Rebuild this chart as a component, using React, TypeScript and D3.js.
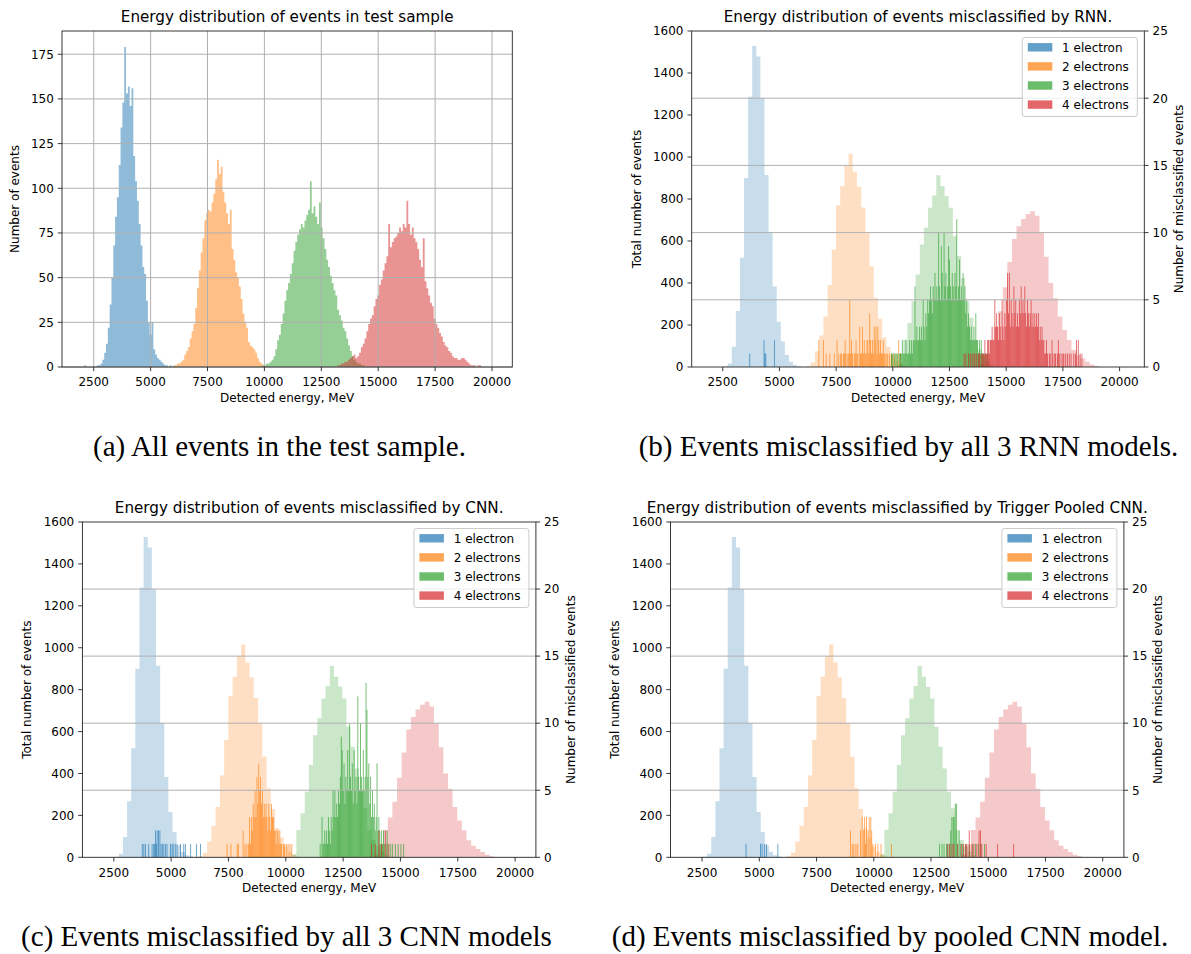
import React from 'react';
import * as d3 from 'd3';

// ---------------- data ----------------
const COLORS = ['#1f77b4', '#ff7f0e', '#2ca02c', '#d62728'];
const LABELS = ['1 electron', '2 electrons', '3 electrons', '4 electrons'];
const X_TICKS = [2500, 5000, 7500, 10000, 12500, 15000, 17500, 20000];
const A_Y_TICKS = [0, 25, 50, 75, 100, 125, 150, 175];
const TOTAL_TICKS = [0, 200, 400, 600, 800, 1000, 1200, 1400, 1600];
const MIS_TICKS = [0, 5, 10, 15, 20, 25];

// (a) fine histogram of all events, 80 MeV bins
const A_BIN = 80;
const A_BLUE_START = 2080;
const A_BLUE = [1, 0, 0, 0, 0, 0, 0, 1, 1, 2, 4, 8, 13, 22, 35, 50, 68, 84, 95, 113, 134, 148, 179, 153, 157, 146, 156, 118, 104, 93, 80, 68, 56, 52, 37, 25, 18, 25, 10, 7, 5, 4, 3, 2, 1, 1, 0, 1];
const A_ORANGE_START = 6000;
const A_ORANGE = [1, 1, 2, 2, 3, 4, 7, 9, 11, 16, 20, 24, 33, 44, 54, 64, 72, 82, 86, 88, 87, 92, 97, 105, 116, 108, 112, 98, 92, 86, 80, 88, 66, 60, 53, 50, 45, 38, 30, 25, 22, 14, 12, 11, 10, 8, 5, 3, 2, 1, 1];
const A_GREEN_START = 9840;
const A_GREEN = [0, 1, 1, 2, 2, 3, 4, 6, 10, 15, 18, 24, 30, 37, 43, 47, 52, 58, 65, 70, 74, 77, 80, 78, 82, 85, 88, 104, 86, 90, 84, 80, 92, 78, 72, 66, 60, 56, 51, 47, 43, 40, 32, 29, 26, 22, 20, 16, 12, 9, 6, 4, 3, 2, 2, 1, 1];
const A_RED_START = 13200;
const A_RED = [1, 1, 2, 2, 3, 3, 4, 5, 6, 7, 5, 6, 8, 11, 13, 16, 20, 24, 27, 29, 34, 38, 40, 46, 49, 54, 58, 62, 80, 67, 70, 72, 73, 75, 78, 76, 80, 78, 93, 80, 74, 78, 72, 70, 66, 60, 56, 72, 48, 44, 40, 36, 34, 27, 24, 22, 19, 17, 14, 12, 11, 9, 8, 6, 5, 5, 4, 4, 5, 5, 4, 3, 2, 1, 1, 1, 0, 1, 1];

// (b)-(d) total number of events per class (coarse bins)
const T_BLUE_START = 2540, T_BLUE_BIN = 180;
const T_BLUE = [3, 17, 97, 267, 520, 900, 1287, 1528, 1478, 1280, 914, 641, 383, 216, 121, 57, 25, 10, 4];
const T_ORANGE_START = 6200, T_ORANGE_BIN = 185;
const T_ORANGE = [6, 22, 75, 150, 240, 390, 560, 770, 862, 960, 1016, 930, 858, 760, 640, 480, 330, 230, 140, 95, 52, 27, 12, 4];
const T_GREEN_START = 10280, T_GREEN_BIN = 182;
const T_GREEN = [15, 130, 210, 313, 440, 583, 663, 758, 817, 913, 862, 814, 758, 623, 528, 424, 313, 234, 130, 83, 51, 27, 10];
const T_RED_START = 13840, T_RED_BIN = 202;
const T_RED = [15, 60, 130, 190, 265, 380, 500, 610, 670, 705, 728, 742, 720, 640, 525, 400, 327, 240, 176, 129, 81, 55, 40, 25, 12, 5];

// misclassified events, 40 MeV bins
const MIS_BIN = 40;
// (b) RNN
const B_BLUE_MIS = [[3670, 1], [4300, 2], [4340, 1], [4380, 1], [4760, 2]];
const B_ORANGE_START = 6680;
const B_ORANGE_MIS = [0, 2, 0, 0, 0, 0, 2, 0, 0, 1, 0, 0, 0, 1, 0, 0, 0, 0, 1, 0, 0, 2, 0, 1, 0, 1, 1, 0, 1, 1, 2, 1, 0, 1, 1, 5, 1, 2, 1, 0, 1, 1, 2, 1, 1, 0, 3, 1, 1, 3, 1, 2, 1, 1, 2, 2, 1, 4, 2, 1, 2, 1, 3, 2, 3, 1, 3, 2, 1, 2, 1, 1, 2, 1, 1, 0, 1, 1, 0, 1, 0, 1, 0, 1, 0, 0, 1, 0, 0, 2, 0, 1];
const B_GREEN_START = 9920;
const B_GREEN_MIS = [1, 1, 0, 1, 1, 0, 1, 1, 0, 1, 1, 1, 2, 1, 1, 1, 2, 1, 1, 1, 2, 1, 2, 1, 2, 2, 6, 2, 3, 2, 2, 3, 2, 3, 2, 5, 3, 2, 4, 3, 5, 4, 5, 6, 5, 4, 6, 5, 7, 5, 6, 5, 10, 6, 5, 9, 7, 5, 10, 6, 7, 5, 6, 9, 8, 6, 5, 7, 6, 5, 7, 6, 11, 5, 6, 8, 5, 6, 5, 7, 5, 6, 4, 5, 3, 4, 3, 2, 3, 2, 2, 3, 2, 4, 2, 2, 1, 2, 1, 2, 1, 1, 1, 0, 1, 0, 1];
const B_RED_START = 13120;
const B_RED_MIS = [1, 0, 1, 0, 0, 1, 0, 1, 0, 1, 0, 1, 1, 0, 1, 0, 1, 1, 0, 1, 1, 1, 1, 2, 1, 1, 2, 2, 1, 2, 2, 3, 2, 2, 5, 3, 4, 3, 2, 4, 3, 2, 5, 3, 2, 4, 3, 5, 7, 4, 7, 3, 5, 4, 3, 6, 4, 5, 3, 4, 3, 5, 4, 6, 4, 5, 4, 6, 4, 3, 5, 4, 3, 4, 5, 3, 4, 3, 4, 3, 4, 3, 4, 2, 3, 2, 3, 2, 2, 1, 1, 2, 1, 0, 1, 1, 0, 2, 1, 0, 1, 1, 0, 1, 2, 1, 0, 1, 0, 1, 1, 0, 1, 0, 1, 0, 1, 0, 1, 0, 0, 1, 0, 1, 2, 0, 2, 0, 1, 0, 1];
// (c) CNN
const C_BLUE_MIS = [[3720, 1], [3790, 1], [3860, 1], [4000, 1], [4150, 1], [4220, 1], [4260, 1], [4300, 2], [4340, 1], [4370, 2], [4430, 2], [4490, 2], [4540, 1], [4600, 1], [4660, 1], [4730, 1], [4800, 1], [4950, 1], [5020, 1], [5070, 1], [5160, 1], [5240, 1], [5390, 1], [5530, 1], [5600, 1], [5830, 1], [6090, 1], [6260, 1]];
const C_ORANGE_SPARSE = [[7420, 1], [7590, 1], [7860, 1], [7920, 1]];
const C_ORANGE_START = 8080;
const C_ORANGE_MIS = [0, 2, 0, 1, 0, 1, 0, 1, 3, 1, 3, 2, 4, 3, 5, 3, 6, 4, 7, 5, 6, 4, 5, 3, 4, 3, 4, 3, 2, 4, 3, 2, 4, 3, 3, 2, 2, 1, 2, 2, 1, 2, 1, 1, 0, 1, 1, 0, 1, 0, 1, 0, 1, 0, 1];
const C_GREEN_START = 11480;
const C_GREEN_MIS = [1, 0, 3, 1, 1, 2, 1, 2, 1, 3, 2, 1, 3, 2, 5, 3, 5, 3, 4, 3, 5, 4, 6, 9, 8, 5, 7, 4, 6, 5, 8, 5, 10, 6, 5, 7, 4, 8, 5, 6, 4, 12, 6, 5, 10, 6, 5, 8, 5, 6, 13, 11, 6, 7, 4, 6, 3, 5, 3, 4, 2, 3, 7, 2, 3, 2, 1, 2, 1, 2, 1, 0, 1, 2, 0, 1, 0, 1, 0, 1, 0, 0, 1, 0, 0, 1, 0, 0, 1, 0, 0, 1];
const C_RED_MIS = [[13720, 1], [13880, 1], [14040, 2], [14160, 1], [14320, 2], [14440, 1]];
// (d) Trigger pooled CNN
const D_BLUE_MIS = [[4400, 1], [5030, 1], [5100, 1], [5200, 1], [5290, 1], [5790, 1]];
const D_ORANGE_MIS = [[8960, 2], [9040, 1], [9110, 1], [9200, 1], [9280, 1], [9400, 2], [9470, 3], [9540, 2], [9580, 3], [9620, 1], [9660, 3], [9730, 2], [9780, 3], [9850, 3], [9890, 2], [9940, 1], [10050, 1], [10160, 1], [10300, 1], [10750, 1]];
const D_GREEN_MIS = [[12850, 1], [12960, 1], [13050, 1], [13160, 1], [13210, 1], [13280, 1], [13340, 2], [13390, 3], [13450, 3], [13490, 3], [13540, 4], [13590, 4], [13640, 1], [13710, 2], [13780, 1], [13850, 1], [14000, 1], [14150, 1], [14300, 1], [14420, 1], [14550, 1], [14660, 1], [14820, 1]];
const D_RED_MIS = [[13210, 1], [13300, 1], [13400, 1], [13480, 1], [13650, 1], [13800, 1], [13900, 1], [13980, 1], [14040, 1], [14150, 2], [14270, 1], [14350, 1], [14480, 1], [14580, 2], [14640, 2], [14700, 1], [14890, 1], [15390, 1], [16090, 1]];

// ---------------- helpers ----------------
type Bin = { x0: number; x1: number; v: number };
const dense = (start: number, w: number, c: number[]): Bin[] => c.map((v, i) => ({ x0: start + i * w, x1: start + (i + 1) * w, v }));
const sparse = (p: number[][], w: number): Bin[] => p.map(([e, v]) => ({ x0: e, x1: e + w, v }));

const FONT = "'DejaVu Sans', Verdana, sans-serif";
const SERIF = "'Liberation Serif', 'Times New Roman', serif";
const W = 1191, H = 954;
const SPINE = '#222';
const GRID = '#b0b0b0';

function stepArea(bins: Bin[], x: any, y: any): string {
  const pts: [number, number][] = bins.map(b => [b.x0, b.v]);
  pts.push([bins[bins.length - 1].x1, 0]);
  return d3.area<[number, number]>().x(d => x(d[0])).y0(y(0)).y1(d => y(d[1])).curve(d3.curveStepAfter)(pts) || '';
}

type Box = { L: number; R: number; T: number; B: number };

function Frame({ box, x, yTicks, y, rTicks, yR, title, yLabel, yLabelX, rLabel, rLabelX }: any) {
  const { L, R, T, B } = box;
  const tl = 4.2;
  return (
    <g fontFamily={FONT} fill="#000">
      <rect x={L} y={T} width={R - L} height={B - T} fill="none" stroke={SPINE} strokeWidth={0.9} />
      {X_TICKS.map(t => (
        <g key={'x' + t}>
          <line x1={x(t)} x2={x(t)} y1={B} y2={B + tl} stroke={SPINE} strokeWidth={0.9} />
          <text x={x(t)} y={B + 19.3} fontSize={12} textAnchor="middle">{t}</text>
        </g>
      ))}
      {yTicks.map((t: number) => (
        <g key={'y' + t}>
          <line x1={L - tl} x2={L} y1={y(t)} y2={y(t)} stroke={SPINE} strokeWidth={0.9} />
          <text x={L - 8.2} y={y(t) + 4.3} fontSize={12} textAnchor="end">{t}</text>
        </g>
      ))}
      {rTicks && rTicks.map((t: number) => (
        <g key={'r' + t}>
          <line x1={R} x2={R + tl} y1={yR(t)} y2={yR(t)} stroke={SPINE} strokeWidth={0.9} />
          <text x={R + 8.2} y={yR(t) + 4.3} fontSize={12} textAnchor="start">{t}</text>
        </g>
      ))}
      <text x={(L + R) / 2} y={T - 9.3} fontSize={15.2} textAnchor="middle">{title}</text>
      <text x={(L + R) / 2} y={B + 35} fontSize={12} textAnchor="middle">Detected energy, MeV</text>
      <text transform={`translate(${yLabelX},${(T + B) / 2}) rotate(-90)`} fontSize={12} textAnchor="middle" dominantBaseline="central">{yLabel}</text>
      {rLabel && <text transform={`translate(${rLabelX},${(T + B) / 2}) rotate(-90)`} fontSize={12} textAnchor="middle" dominantBaseline="central">{rLabel}</text>}
    </g>
  );
}

function PanelA() {
  const box: Box = { L: 62, R: 512.3, T: 31, B: 367 };
  const x = d3.scaleLinear().domain([1106, 20893]).range([box.L, box.R]);
  const y = d3.scaleLinear().domain([0, 188]).range([box.B, box.T]);
  const series = [
    dense(A_BLUE_START, A_BIN, A_BLUE),
    dense(A_ORANGE_START, A_BIN, A_ORANGE),
    dense(A_GREEN_START, A_BIN, A_GREEN),
    dense(A_RED_START, A_BIN, A_RED),
  ];
  return (
    <g>
      <rect x={box.L} y={box.T} width={box.R - box.L} height={box.B - box.T} fill="#fff" />
      {series.map((s, i) => <path key={i} d={stepArea(s, x, y)} fill={COLORS[i]} fillOpacity={0.5} />)}
      {X_TICKS.map(t => <line key={'gx' + t} x1={x(t)} x2={x(t)} y1={box.T} y2={box.B} stroke={GRID} strokeWidth={1} />)}
      {A_Y_TICKS.map(t => <line key={'gy' + t} x1={box.L} x2={box.R} y1={y(t)} y2={y(t)} stroke={GRID} strokeWidth={1} />)}
      <Frame box={box} x={x} y={y} yTicks={A_Y_TICKS} title="Energy distribution of events in test sample" yLabel="Number of events" yLabelX={15.3} />
    </g>
  );
}

const TOTALS = () => [
  dense(T_BLUE_START, T_BLUE_BIN, T_BLUE),
  dense(T_ORANGE_START, T_ORANGE_BIN, T_ORANGE),
  dense(T_GREEN_START, T_GREEN_BIN, T_GREEN),
  dense(T_RED_START, T_RED_BIN, T_RED),
];

function Legend({ box }: { box: Box }) {
  const w = 115, h = 79;
  const lx = box.R - 7 - w, ly = box.T + 6.5;
  return (
    <g fontFamily={FONT}>
      <rect x={lx} y={ly} width={w} height={h} rx={2.5} fill="#fff" fillOpacity={0.8} stroke="#cccccc" strokeWidth={1} />
      {LABELS.map((lab, i) => {
        const cy = ly + 9.8 + 19.1 * i;
        return (
          <g key={lab}>
            <rect x={lx + 5.5} y={cy - 4.2} width={24.5} height={8.4} fill={COLORS[i]} fillOpacity={0.7} />
            <text x={lx + 39.8} y={cy + 4.3} fontSize={12} fill="#000">{lab}</text>
          </g>
        );
      })}
    </g>
  );
}

function PanelMis({ box, xDom, title, yLabelX, rLabelX, mis }: { box: Box; xDom: number[]; title: string; yLabelX: number; rLabelX: number; mis: Bin[][] }) {
  const x = d3.scaleLinear().domain(xDom).range([box.L, box.R]);
  const y = d3.scaleLinear().domain([0, 1600]).range([box.B, box.T]);
  const yR = d3.scaleLinear().domain([0, 25]).range([box.B, box.T]);
  const tot = TOTALS();
  return (
    <g>
      <rect x={box.L} y={box.T} width={box.R - box.L} height={box.B - box.T} fill="#fff" />
      {tot.map((s, i) => <path key={'t' + i} d={stepArea(s, x, y)} fill={COLORS[i]} fillOpacity={0.25} />)}
      {mis.map((s, k) => s.filter(b => b.v > 0).map((b, j) => (
        <rect key={k + '-' + j} x={x(b.x0)} width={Math.max(0.6, x(b.x1) - x(b.x0))} y={yR(b.v)} height={yR(0) - yR(b.v)}
          fill={COLORS[(s as any).ci]} fillOpacity={0.7} />
      )))}
      {MIS_TICKS.slice(1, -1).map(t => <line key={'g' + t} x1={box.L} x2={box.R} y1={yR(t)} y2={yR(t)} stroke={GRID} strokeWidth={1} />)}
      <Frame box={box} x={x} y={y} yTicks={TOTAL_TICKS} rTicks={MIS_TICKS} yR={yR} title={title}
        yLabel="Total number of events" yLabelX={yLabelX} rLabel="Number of misclassified events" rLabelX={rLabelX} />
      <Legend box={box} />
    </g>
  );
}

function tag(b: Bin[], ci: number): Bin[] { (b as any).ci = ci; return b; }

export default function App() {
  const misB = [
    tag(sparse(B_BLUE_MIS, MIS_BIN), 0),
    tag(dense(B_ORANGE_START, MIS_BIN, B_ORANGE_MIS), 1),
    tag(dense(B_GREEN_START, MIS_BIN, B_GREEN_MIS), 2),
    tag(dense(B_RED_START, MIS_BIN, B_RED_MIS), 3),
  ];
  const misC = [
    tag(sparse(C_BLUE_MIS, MIS_BIN), 0),
    tag(sparse(C_ORANGE_SPARSE, MIS_BIN), 1),
    tag(dense(C_ORANGE_START, MIS_BIN, C_ORANGE_MIS), 1),
    tag(dense(C_GREEN_START, MIS_BIN, C_GREEN_MIS), 2),
    tag(sparse(C_RED_MIS, MIS_BIN), 3),
  ];
  const misD = [
    tag(sparse(D_BLUE_MIS, MIS_BIN), 0),
    tag(sparse(D_ORANGE_MIS, MIS_BIN), 1),
    tag(sparse(D_GREEN_MIS, MIS_BIN), 2),
    tag(sparse(D_RED_MIS, MIS_BIN), 3),
  ];
  return (
    <svg width={W} height={H} viewBox={`0 0 ${W} ${H}`} style={{ position: 'absolute', left: 0, top: 0, display: 'block' }}>
      <rect width={W} height={H} fill="#fff" />
      <PanelA />
      <PanelMis box={{ L: 691.7, R: 1144.3, T: 31, B: 367 }} xDom={[1132, 21090]} title="Energy distribution of events misclassified by RNN." yLabelX={637} rLabelX={1178.6} mis={misB} />
      <PanelMis box={{ L: 82.4, R: 535.9, T: 522, B: 857.3 }} xDom={[1131, 20907]} title="Energy distribution of events misclassified by CNN." yLabelX={27.4} rLabelX={571} mis={misC} />
      <PanelMis box={{ L: 670.5, R: 1123.9, T: 522, B: 857.3 }} xDom={[1120, 20926]} title="Energy distribution of events misclassified by Trigger Pooled CNN." yLabelX={615} rLabelX={1158.4} mis={misD} />
      <g fontFamily={SERIF} fontSize={29} fill="#000" textAnchor="middle">
        <text x={279.5} y={456}>(a) All events in the test sample.</text>
        <text x={908.5} y={456}>(b) Events misclassified by all 3 RNN models.</text>
        <text x={286.5} y={946}>(c) Events misclassified by all 3 CNN models</text>
        <text x={890} y={946}>(d) Events misclassified by pooled CNN model.</text>
      </g>
    </svg>
  );
}
